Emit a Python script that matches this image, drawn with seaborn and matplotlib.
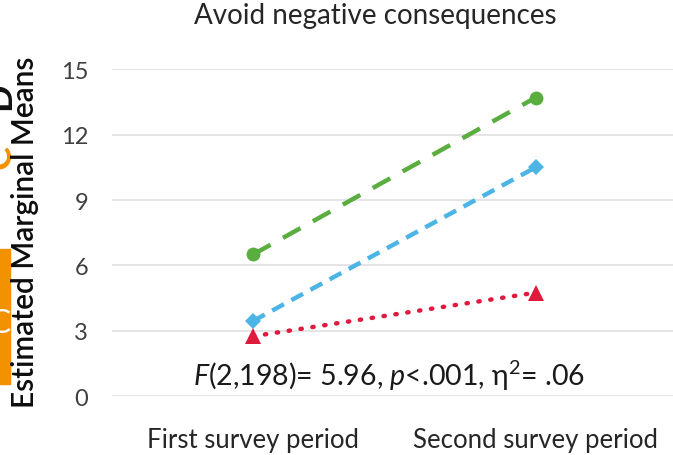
import pandas as pd
import seaborn as sns
import matplotlib.pyplot as plt
from matplotlib.patches import Rectangle

# values
periods = ["First survey period", "Second survey period"]
groups = ["Group 1", "Group 2", "Group 3"]
group1 = [6.5, 13.7]
group2 = [3.45, 10.5]
group3 = [2.75, 4.75]
yticks = [0, 3, 6, 9, 12, 15]

df = pd.DataFrame({
    "period": periods * 3,
    "group": [g for g in groups for _ in periods],
    "mean": group1 + group2 + group3,
})

sns.set_theme(style="white")
plt.rcParams["font.family"] = ["Lato", "DejaVu Sans"]
plt.rcParams["mathtext.fontset"] = "custom"
plt.rcParams["mathtext.rm"] = "Lato"
plt.rcParams["mathtext.it"] = "Lato:italic"

palette = {"Group 1": "#5aad3f", "Group 2": "#4cb5e6", "Group 3": "#e01a3c"}
markers = {"Group 1": "o", "Group 2": "D", "Group 3": "^"}
dashes = {"Group 1": (4.5, 3.2), "Group 2": (3.0, 1.9), "Group 3": (0.3, 2.4)}

fig = plt.figure(figsize=(6.73, 4.56), dpi=100)
ax = fig.add_axes([0.166, 0.129, 0.84, 0.717])

sns.lineplot(data=df, x="period", y="mean", hue="group", style="group",
             palette=palette, markers=markers, dashes=dashes, linewidth=3.2,
             markersize=10, markeredgewidth=0, legend=False, ax=ax)
for ln, g in zip(ax.lines, groups):
    if g == "Group 3":
        ln.set_dash_capstyle("round")
        ln.set_markersize(11)
    if g == "Group 2":
        ln.set_markersize(8)

ax.set_xlim(-0.5, 1.5)
ax.set_ylim(0, 15)
ax.set_yticks(yticks)
ax.yaxis.grid(True, color="#e3e3e3", linewidth=1.3)
ax.set_axisbelow(True)
for s in ax.spines.values():
    s.set_visible(False)

ax.tick_params(axis="y", length=0, pad=17, labelsize=17, labelcolor="#404040")
ax.tick_params(axis="x", which="major", length=0, pad=22, labelsize=18.5,
               labelcolor="#262626")
ax.set_xticks([-0.5, 0.5, 1.5], minor=True)
ax.tick_params(axis="x", which="minor", length=9, width=1.3, color="#e3e3e3")

ax.set_xlabel("")
ax.set_ylabel("")
ax.set_title("Avoid negative consequences", fontsize=20, color="#262626",
             pad=33, x=0.467)

ax.text(0.49, 0.066, r"$\mathit{F}$(2,198)= 5.96, $\mathit{p}$<.001, η$^2$= .06",
        transform=ax.transAxes, ha="center", va="center", fontsize=20.5,
        color="#1a1a1a")

# fragments of the neighbouring panel on the left edge
fig.patches.append(Rectangle((0, 0.156), 0.015, 0.296, transform=fig.transFigure,
                             color="#f39200", zorder=0))
fig.text(0.0, 0.29, "C", color="white", fontsize=24, ha="center", va="center")
fig.text(0.0, 0.655, "C", color="#f39200", fontsize=26, fontweight="bold",
         rotation=90, ha="center", va="center")
fig.text(0.0, 0.79, "D", color="#111111", fontsize=26, fontweight="bold",
         rotation=90, ha="center", va="center")

fig.text(25 / 673, 1 - 232 / 456, "Estimated Marginal Means", rotation=90,
         fontsize=21.5, fontweight="semibold", color="#0d0d0d",
         ha="center", va="center")

fig.savefig("out.png", dpi=100)
